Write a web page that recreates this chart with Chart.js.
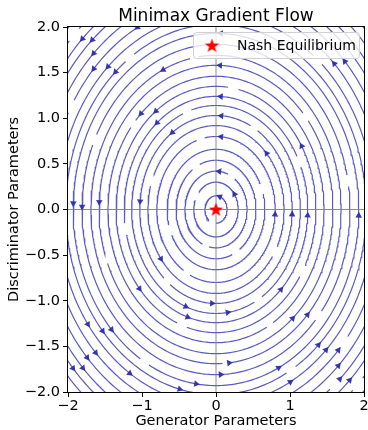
<!DOCTYPE html>
<html>
<head>
<meta charset="utf-8">
<script src="https://cdn.jsdelivr.net/npm/chart.js@4"></script>
<style>
  html, body { margin: 0; padding: 0; background: #fff; }
  #wrap { width: 368px; height: 430px; }
</style>
</head>
<body>
<div id="wrap"><canvas id="chart" width="368" height="430"></canvas></div>
<script>
// chart content
const chartTitle = 'Minimax Gradient Flow';
const xLabel = 'Generator Parameters';
const yLabel = 'Discriminator Parameters';
const legendLabel = 'Nash Equilibrium';

const xTickValues = [-2, -1, 0, 1, 2];
const xTickLabels = ['−2', '−1', '0', '1', '2'];
const yTickValues = [-2, -1.5, -1, -0.5, 0, 0.5, 1, 1.5, 2];
const yTickLabels = ['−2.0', '−1.5', '−1.0', '−0.5', '0.0', '0.5', '1.0', '1.5', '2.0'];

// streamlines (closed orbits round the origin), radius of each one
const streamRadii = [0.15, 0.30, 0.42, 0.54, 0.66, 0.80, 0.92, 1.03, 1.14, 1.24, 1.35, 1.46,
                     1.58, 1.69, 1.81, 1.93, 2.03, 2.14, 2.26, 2.38, 2.50, 2.60, 2.71, 2.82];
// where each streamline is broken (degrees)
const streamGaps = [
  [250], [150], [60, 250], [120, 300], [20, 200], [105, 240], [160, 330], [60, 230],
  [110, 300], [25, 190], [80, 250, 330], [140, 300], [40, 200], [100, 275], [10, 155, 320],
  [70, 240], [125, 300], [50, 195], [150, 320], [60, 250], [120, 310], [60, 205], [135, 315], [50, 225]
];

// arrow heads: radius of the streamline and angle on it (degrees)
const arrowRadius = [2.60, 2.50, 2.38, 2.26, 2.14, 2.03, 2.26, 1.69, 1.46, 1.35, 1.24, 1.03,
                     1.24, 1.58, 1.69, 2.03, 2.14, 2.26, 1.93, 2.38, 2.50, 2.60, 2.14,
                     0.30, 0.80, 1.03, 1.24, 1.93, 1.93, 1.81, 1.58, 1.03,
                     1.93, 1.58, 1.24, 1.03, 0.80, 0.42, 0.15,
                     1.03, 1.14, 1.69, 1.81,
                     0.92, 1.35, 1.14, 1.24, 2.14, 2.03, 1.93, 2.38, 2.26, 2.60, 2.50, 2.14, 2.03, 1.93,
                     2.26, 2.38, 0.92, 1.35];
const arrowAngle = [134, 132, 134, 137, 133, 132, 118, 115, 134, 127, 130, 125,
                    315, 311, 317, 313, 314, 317, 296, 314, 312, 314, 298,
                    34, 356, 357, 357, 358, 178, 179, 177, 175,
                    88, 88, 87, 86, 85, 84, 70,
                    267, 278, 276, 272,
                    216, 220, 249, 252, 216, 221, 223, 223, 224, 222, 224, 237, 256, 262,
                    45, 43, 42, 31];

const nashPoint = [{ x: 0, y: 0 }];

// colours
const streamColor = 'rgba(45, 45, 175, 0.78)';
const arrowColor = 'rgba(45, 45, 175, 0.95)';
const crossColor = 'rgba(120, 120, 120, 0.85)';
const FONT = 'DejaVu Sans';

// red filled star used as point style
function makeStar(size) {
  const c = document.createElement('canvas');
  c.width = size; c.height = size;
  const g = c.getContext('2d');
  const R = size / 2, r = R * 0.4;
  g.beginPath();
  for (let i = 0; i < 10; i++) {
    const a = -Math.PI / 2 + i * Math.PI / 5;
    const rr = i % 2 === 0 ? R : r;
    g.lineTo(R + rr * Math.cos(a), R + 0.5 + rr * Math.sin(a));
  }
  g.closePath();
  g.fillStyle = '#ff0000';
  g.fill();
  return c;
}
const starImg = makeStar(15);

function ringPoints(radius, gaps) {
  const half = (0.05 / radius) * 180 / Math.PI;
  const pts = [];
  let inGap = false;
  for (let d = 0; d <= 360; d += 1) {
    const hit = gaps.some(gp => {
      let diff = Math.abs(((d - gp) % 360 + 540) % 360 - 180);
      return diff < half;
    });
    if (hit) {
      if (!inGap) pts.push({ x: 0, y: null });
      inGap = true;
      continue;
    }
    inGap = false;
    const a = d * Math.PI / 180;
    pts.push({ x: radius * Math.cos(a), y: radius * Math.sin(a) });
  }
  return pts;
}

const datasets = [];
streamRadii.forEach((r, i) => {
  datasets.push({
    data: ringPoints(r, streamGaps[i]),
    showLine: true,
    borderColor: streamColor,
    borderWidth: 1.2,
    pointRadius: 0,
    spanGaps: false,
    order: 4
  });
});

datasets.push({
  data: [{ x: -2, y: 0 }, { x: 2, y: 0 }],
  showLine: true, borderColor: crossColor, borderWidth: 1, pointRadius: 0, order: 3
});
datasets.push({
  data: [{ x: 0, y: -2 }, { x: 0, y: 2 }],
  showLine: true, borderColor: crossColor, borderWidth: 1, pointRadius: 0, order: 3
});

datasets.push({
  data: arrowRadius.map((r, i) => ({
    x: r * Math.cos(arrowAngle[i] * Math.PI / 180),
    y: r * Math.sin(arrowAngle[i] * Math.PI / 180)
  })),
  showLine: false,
  pointStyle: 'triangle',
  pointRadius: 3.8,
  borderWidth: 0,
  backgroundColor: arrowColor,
  pointRotation: (ctx) => {
    const c = ctx.chart;
    const sx = c.scales.x.getPixelForValue(1) - c.scales.x.getPixelForValue(0);
    const sy = c.scales.y.getPixelForValue(0) - c.scales.y.getPixelForValue(1);
    const p = ctx.raw;
    if (!p) return 0;
    const t = Math.atan2(p.y, p.x);
    return Math.atan2(-Math.sin(t) * sx, Math.cos(t) * sy) * 180 / Math.PI;
  },
  order: 2
});

datasets.push({
  data: nashPoint,
  showLine: false,
  pointStyle: starImg,
  pointRadius: 7,
  order: 1
});

const framePlugin = {
  id: 'frame',
  afterDatasetsDraw(chart) {
    const { ctx, chartArea: a } = chart;
    ctx.save();
    ctx.strokeStyle = '#000';
    ctx.lineWidth = 1;
    ctx.strokeRect(Math.round(a.left) - 0.5, Math.round(a.top) - 0.5,
                   Math.round(a.right - a.left) + 1, Math.round(a.bottom - a.top) + 1);

    // legend box
    const w = 166, h = 26;
    const lx = a.right - 171, ly = a.top + 5;
    ctx.beginPath();
    ctx.roundRect(lx + 0.5, ly + 0.5, w, h, 3);
    ctx.fillStyle = 'rgba(255,255,255,0.8)';
    ctx.fill();
    ctx.strokeStyle = '#d0d0d0';
    ctx.stroke();
    ctx.drawImage(starImg, lx + 19 - starImg.width / 2, ly + 13.5 - starImg.height / 2);
    ctx.fillStyle = '#000';
    ctx.font = '14px "' + FONT + '"';
    ctx.textBaseline = 'middle';
    ctx.textAlign = 'left';
    ctx.fillText(legendLabel, lx + 44, ly + 14);

    // title
    ctx.font = '17px "' + FONT + '"';
    ctx.textAlign = 'center';
    ctx.textBaseline = 'alphabetic';
    ctx.fillText(chartTitle, (a.left + a.right) / 2, 21);
    ctx.restore();
  }
};

new Chart(document.getElementById('chart'), {
  type: 'scatter',
  data: { datasets },
  options: {
    responsive: false,
    animation: false,
    events: [],
    layout: { autoPadding: false, padding: { top: 27, right: 4, left: 0, bottom: 0 } },
    plugins: { legend: { display: false }, tooltip: { enabled: false }, title: { display: false } },
    scales: {
      x: {
        type: 'linear', min: -2, max: 2,
        afterFit: (s) => { s.height = 38; s.paddingLeft = 0; s.paddingRight = 0; },
        afterBuildTicks: (s) => { s.ticks = xTickValues.map(v => ({ value: v })); },
        ticks: {
          color: '#000', padding: 1, maxRotation: 0,
          font: { family: FONT, size: 14.5 },
          callback: (v) => xTickLabels[xTickValues.indexOf(v)]
        },
        grid: { display: true, drawOnChartArea: false, drawTicks: true, tickLength: 5, color: '#000' },
        border: { display: false },
        title: { display: true, text: xLabel, color: '#000', font: { family: FONT, size: 14.5 }, padding: { top: 0, bottom: 0 } }
      },
      y: {
        type: 'linear', min: -2, max: 2,
        afterFit: (s) => { s.width = 68; s.paddingTop = 0; s.paddingBottom = 0; },
        afterBuildTicks: (s) => { s.ticks = yTickValues.map(v => ({ value: v })); },
        ticks: {
          color: '#000', padding: 3,
          font: { family: FONT, size: 14.5 },
          callback: (v) => yTickLabels[yTickValues.indexOf(v)]
        },
        grid: { display: true, drawOnChartArea: false, drawTicks: true, tickLength: 5, color: '#000' },
        border: { display: false },
        title: { display: true, text: yLabel, color: '#000', font: { family: FONT, size: 14.5 }, padding: { top: 6, bottom: 0 } }
      }
    }
  },
  plugins: [framePlugin]
});
</script>
</body>
</html>
